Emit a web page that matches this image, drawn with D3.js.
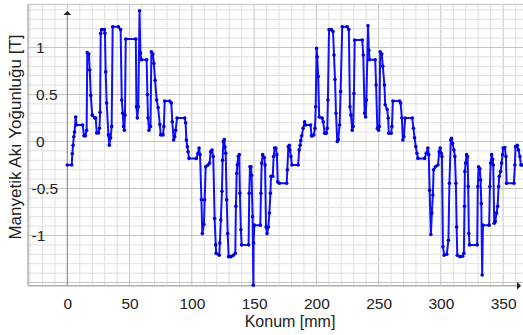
<!DOCTYPE html>
<html>
<head>
<meta charset="utf-8">
<script src="https://cdn.jsdelivr.net/npm/d3@7"></script>
<style>
  body { margin: 0; background: #fff; }
  text { font-family: Arial, "Liberation Sans", sans-serif; fill: #222; }
</style>
</head>
<body>
<script>
// position along the air gap (mm) and flux density (T)
var konum = [0,3.5,4,4.6,5.2,5.8,6.7,7.3,12.3,13.4,14.5,15.5,16,17.3,18,18.8,20,22,22.8,23.6,25,25.8,26.3,26.8,27.5,29.7,30.2,30.8,31.6,33,33.7,34.8,35.6,36.4,41,42.8,43.7,44.5,45.1,45.8,46.3,46.9,55,55.5,56.2,57,58,58.7,59.5,63.7,64.3,64.8,65.6,66.8,67.5,68.7,69.5,70.5,71.8,72.9,74.3,75,76.9,77.5,78.2,82.2,83.5,84.3,85.4,86.3,87,88.1,94.3,95,95.6,96.4,97,97.7,103.6,104.9,105.8,106.6,107.7,108.4,109.7,110.3,111.1,113,114.3,115.1,116.2,117.2,118.3,119.2,119.5,122,122.5,123.3,124.2,124.7,125.3,126.1,126.6,127.2,128,128.8,129.6,131.5,133.3,134.9,135.4,136,136.5,137.3,138.1,138.6,139.4,140,145.6,146.1,146.7,147.5,148,148.8,149.4,149.6,150.2,155,155.5,156.1,156.9,158.2,158.8,159.6,160.4,161.5,162.3,163.1,163.6,165,165.7,166.5,167.5,168.3,169,170.3,176.2,176.7,177.5,178.3,178.8,179.6,180.4,185.4,186.2,187,187.5,188.3,189.4,190.6,191.4,195.4,196.1,196.7,198,198.9,199.5,200.2,200.7,201.5,202.3,204.7,205.5,206.7,208,208.8,209.3,210.2,212,213.4,214.2,215,215.8,216.8,217.6,218.7,219.5,220.8,224.8,226.1,227,227.8,228.8,229.6,230.2,230.8,236.9,237.7,238.8,239.6,240.2,241.5,242.2,242.8,247.3,248,249,250,250.6,251.3,252.6,253.4,254.7,255.3,256.9,257.7,258.2,260.1,260.7,261.5,266.9,267.7,268.7,269.5,270.3,271.4,277,278,278.9,279.9,280.8,281.6,287,288.3,289.6,290.3,291,292,292.8,293.6,294.2,295.6,297.7,298.7,299.5,300.3,300.9,301.7,302.7,304.8,306.1,306.9,308,308.6,309.4,310.5,311.3,312.1,312.7,313.2,315.4,317.5,318.5,319,319.3,319.9,320.7,321.5,322,322.5,323.1,329.2,329.7,330.3,331.4,331.9,332.5,333.2,333.8,338.8,339.4,340,340.8,341.6,342.1,342.9,343.7,344.8,345.6,346.4,346.9,348,348.8,349.6,350.1,351.4,352.3,352.8,358.7,359.5,360,361.4,362.4,363.5,364.3,365.6];
var aki = [-0.25,-0.25,-0.13,-0.04,0.05,0.10,0.26,0.175,0.175,0.06,0.06,0.12,0.945,0.93,0.76,0.49,0.28,0.25,0.25,0.09,0.09,0.14,0.31,1.15,1.19,1.19,1.15,0.74,0.41,0.07,-0.04,0.04,0.16,1.22,1.22,1.19,0.44,0.30,0.16,0.12,0.28,1.09,1.09,0.37,0.25,0.37,1.39,0.94,0.87,0.87,0.5,0.25,0.12,0.16,0.955,0.93,0.83,0.65,0.44,0.36,0.18,0.07,0.07,0.16,0.43,0.43,0.41,0.21,0.016,0.05,0.12,0.25,0.25,0.2,0.016,-0.055,-0.11,-0.18,-0.18,-0.125,-0.07,-0.14,-0.62,-0.98,-0.88,-0.62,-0.27,-0.25,-0.23,-0.11,-0.09,-0.16,-0.82,-1.10,-1.19,-1.21,-1.08,-0.835,-0.53,-0.2,0,0.02,-0.06,-0.125,-0.62,-0.98,-1.225,-1.225,-1.21,-1.19,-0.69,-0.34,-0.25,-0.16,-0.14,-0.55,-0.94,-1.1,-1.1,-0.55,-0.27,-0.27,-0.36,-0.8,-1.53,-1.08,-0.89,-0.89,-0.55,-0.23,-0.14,-0.17,-0.25,-0.91,-0.98,-0.91,-0.76,-0.55,-0.37,-0.37,-0.16,-0.07,-0.07,-0.14,-0.43,-0.445,-0.445,-0.30,-0.055,-0.04,-0.09,-0.16,-0.25,-0.25,-0.09,-0.04,0.01,0.06,0.14,0.21,0.175,0.175,0.06,0.06,0.07,0.14,0.37,0.99,0.9,0.69,0.26,0.25,0.21,0.087,0.087,0.14,0.44,1.19,1.19,1.17,0.92,0.66,0.30,0,0.02,0.175,0.53,1.22,1.22,1.19,0.37,0.28,0.12,0.16,0.51,1.08,1.08,0.92,0.30,0.26,0.44,1.23,0.97,0.87,0.87,0.6,0.14,0.12,0.16,0.955,0.93,0.8,0.6,0.39,0.34,0.25,0.087,0.087,0.16,0.43,0.43,0.41,0.25,0.016,0.05,0.25,0.25,0.14,0.04,-0.055,-0.125,-0.18,-0.18,-0.125,-0.07,-0.14,-0.52,-0.99,-0.76,-0.57,-0.30,-0.27,-0.25,-0.11,-0.07,-0.125,-0.16,-1.12,-1.21,-1.2,-1.05,-0.445,0.016,0.034,-0.02,-0.09,-0.16,-0.445,-0.91,-1.21,-1.225,-1.22,-1.19,-0.69,-0.32,-0.23,-0.14,-0.16,-0.48,-0.98,-1.10,-1.10,-0.48,-0.27,-0.29,-0.41,-0.66,-1.42,-0.89,-0.89,-0.48,-0.23,-0.14,-0.19,-0.25,-0.87,-0.85,-0.76,-0.69,-0.48,-0.37,-0.32,-0.23,-0.14,-0.07,-0.065,-0.16,-0.445,-0.445,-0.25,-0.055,-0.04,-0.09,-0.16,-0.25,-0.25];

var xTicks = [0, 50, 100, 150, 200, 250, 300, 350];
var yTicks = [-1, -0.5, 0, 0.5, 1];
var xTitle = "Konum [mm]";
var yTitle = "Manyetik Akı Yoğunluğu [T]";

var W = 523, H = 335;
var pl = 28, pr = 523, pt = 4.5, pb = 285.7;

var svg = d3.select("body").append("svg")
    .attr("width", W)
    .attr("height", H);

var x = d3.scaleLinear().domain([-31.6, 366]).range([pl, pr]);
var y = d3.scaleLinear().domain([-1.534, 1.457]).range([pb, pt]);

var data = konum.map(function(k, i){ return {x: k, y: aki[i]}; });

// grid: minor every 10 mm / 0.1 T, major every 50 mm / 0.5 T
var gx = d3.range(-30, 366, 10);
var gy = d3.range(-15, 15, 1).map(function(v){ return v / 10; });
var grid = svg.append("g");
grid.selectAll(".vx")
  .data(gx)
  .enter().append("line")
    .attr("x1", function(d){ return x(d); })
    .attr("x2", function(d){ return x(d); })
    .attr("y1", pt)
    .attr("y2", pb)
    .attr("stroke", function(d){ return d % 50 == 0 ? "#c4c4c4" : "#e0e0e0"; })
    .attr("stroke-width", 1);
grid.selectAll(".hy")
  .data(gy)
  .enter().append("line")
    .attr("y1", function(d){ return y(d); })
    .attr("y2", function(d){ return y(d); })
    .attr("x1", pl)
    .attr("x2", pr)
    .attr("stroke", function(d){ return Math.abs(Math.round(d*10)) % 5 == 0 ? "#c4c4c4" : "#e0e0e0"; })
    .attr("stroke-width", 1);

// frame
svg.append("line").attr("x1", pl).attr("x2", pr).attr("y1", pt).attr("y2", pt)
  .attr("stroke", "#cfcfcf").attr("stroke-width", 1.5);
svg.append("line").attr("x1", pl).attr("x2", pl).attr("y1", pt).attr("y2", pb)
  .attr("stroke", "#b0b0b0").attr("stroke-width", 1.5);
svg.append("line").attr("x1", pl).attr("x2", pr - 4).attr("y1", pb).attr("y2", pb)
  .attr("stroke", "#b0b0b0").attr("stroke-width", 1.5);

// y axis line at x = 0 with arrow
svg.append("line").attr("x1", x(0)).attr("x2", x(0)).attr("y1", pb).attr("y2", 14)
  .attr("stroke", "#8a8a8a").attr("stroke-width", 1);
svg.append("path")
  .attr("d", "M" + (x(0) - 4) + ",15 L" + x(0) + ",11 L" + (x(0) + 4) + ",15 Z")
  .attr("fill", "#222");
// x axis arrow
svg.append("path")
  .attr("d", "M" + (pr - 6) + "," + (pb - 4) + " L" + (pr - 2) + "," + pb + " L" + (pr - 6) + "," + (pb + 4) + " Z")
  .attr("fill", "#222");

// tick labels
var xAxis = svg.append("g")
    .attr("transform", "translate(0," + pb + ")")
    .call(d3.axisBottom(x).tickValues(xTicks).tickSize(0).tickPadding(12).tickFormat(d3.format("")));
xAxis.select(".domain").remove();
xAxis.selectAll("text").style("font-size", "15.5px").attr("fill", "#222")
  .style("font-family", "Arial, 'Liberation Sans', sans-serif");

svg.append("g").selectAll("text")
  .data(yTicks)
  .enter().append("text")
    .attr("x", function(d){ return d < 0 ? 31.5 : 36; })
    .attr("y", function(d){ return y(d); })
    .attr("dy", "0.35em")
    .style("font-size", "15.5px")
    .text(function(d){ return d < 0 ? "-" + Math.abs(d) : d; });

// axis titles
svg.append("text")
  .attr("x", 290)
  .attr("y", 327)
  .attr("text-anchor", "middle")
  .style("font-size", "16px")
  .text(xTitle);
svg.append("text")
  .attr("transform", "translate(21,137) rotate(-90)")
  .attr("text-anchor", "middle")
  .style("font-size", "17px")
  .text(yTitle);

// curve
var line = d3.line()
    .x(function(d){ return x(d.x); })
    .y(function(d){ return y(d.y); });

svg.append("path")
  .datum(data)
  .attr("fill", "none")
  .attr("stroke", "#1010ff")
  .attr("stroke-width", 2)
  .attr("stroke-linejoin", "round")
  .attr("d", line);

svg.append("g").selectAll("circle")
  .data(data)
  .enter().append("circle")
    .attr("cx", function(d){ return x(d.x); })
    .attr("cy", function(d){ return y(d.y); })
    .attr("r", 1.8)
    .attr("fill", "#0000dd");
</script>
</body>
</html>
